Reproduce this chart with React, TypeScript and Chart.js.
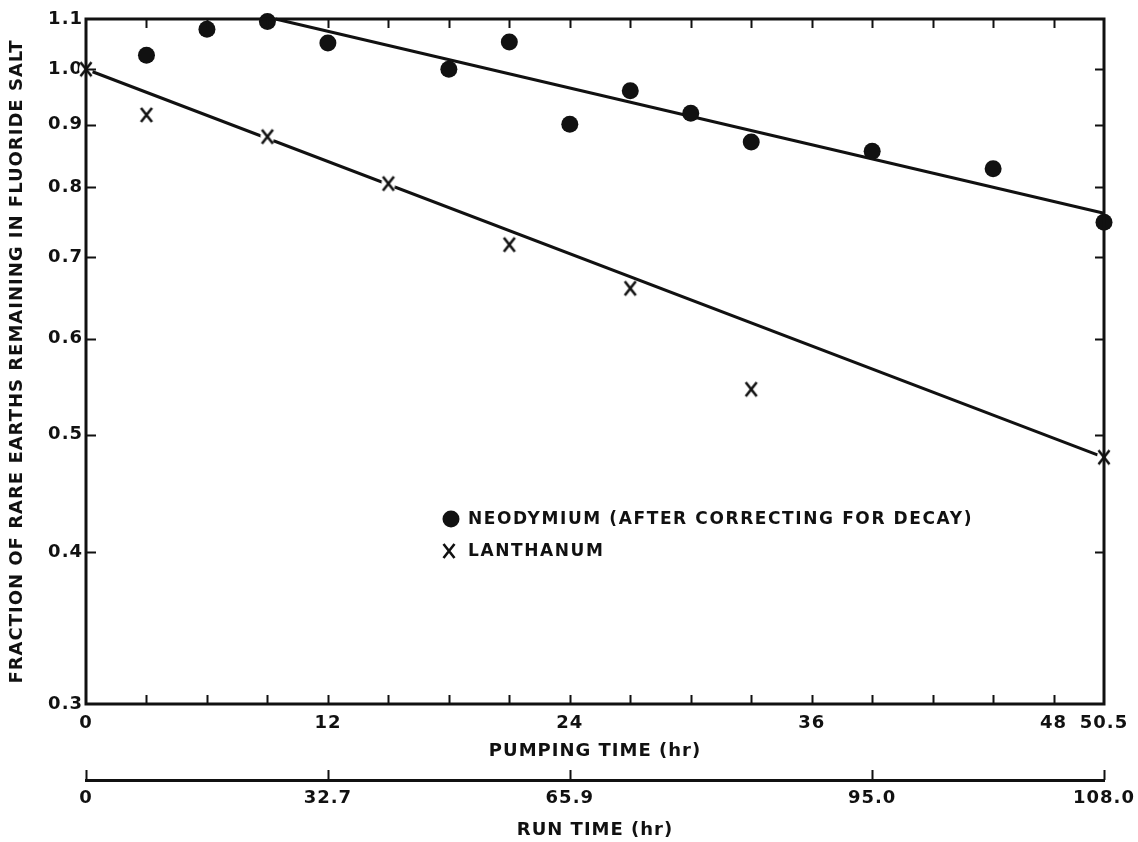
import React, { useEffect, useRef } from 'react';
import { Chart, registerables } from 'chart.js';

Chart.register(...registerables);

// Neodymium fractions (after decay correction) vs pumping time
const ndPumpHours = [3, 6, 9, 12, 18, 21, 24, 27, 30, 33, 39, 45, 50.5];
const ndFraction = [1.027, 1.079, 1.095, 1.051, 1.0, 1.053, 0.901, 0.96, 0.92, 0.871, 0.856, 0.828, 0.748];

// Lanthanum fractions vs pumping time
const laPumpHours = [0, 3, 9, 15, 21, 27, 33, 50.5];
const laFraction = [1.0, 0.917, 0.88, 0.805, 0.717, 0.66, 0.545, 0.479];

// Fitted straight lines (on the log scale)
const ndFitHours = [9.4, 50.5];
const ndFitFraction = [1.1, 0.761];
const laFitHours = [0, 50.5];
const laFitFraction = [1.0, 0.479];

// Axis ticks
const yTickValues = [0.3, 0.4, 0.5, 0.6, 0.7, 0.8, 0.9, 1.0, 1.1];
const pumpTickHours = [0, 3, 6, 9, 12, 15, 18, 21, 24, 27, 30, 33, 36, 39, 42, 45, 48, 50.5];
const pumpLabelHours = [0, 12, 24, 36, 48, 50.5];
const runTickHours = [0, 12, 24, 39, 50.5];
const runTickLabels = ['0', '32.7', '65.9', '95.0', '108.0'];

const INK = '#111111';
const FONT = 'DejaVu Sans';

const toPoints = (xs: number[], ys: number[]) => xs.map((x, i) => ({ x, y: ys[i] }));

// "X" marker with a small white halo so the fitted line breaks around it
function makeCrossMarker(): HTMLCanvasElement {
  const c = document.createElement('canvas');
  c.width = 16;
  c.height = 18;
  const g = c.getContext('2d') as CanvasRenderingContext2D;
  g.fillStyle = '#ffffff';
  g.beginPath();
  g.ellipse(8, 9, 7, 8, 0, 0, Math.PI * 2);
  g.fill();
  g.strokeStyle = INK;
  g.lineWidth = 2.6;
  g.beginPath();
  g.moveTo(2.5, 2);
  g.lineTo(13.5, 16);
  g.moveTo(13.5, 2);
  g.lineTo(2.5, 16);
  g.stroke();
  return c;
}

// Horizontal axes keep the plot edges fixed regardless of label overflow
const noSidePadding = (s: any, height: number) => {
  s.height = height;
  s.paddingLeft = 0;
  s.paddingRight = 0;
};

export default function App() {
  const canvasRef = useRef<HTMLCanvasElement | null>(null);

  useEffect(() => {
    const canvas = canvasRef.current;
    if (!canvas) return;
    const cross = makeCrossMarker();

    const framePlugin = {
      id: 'frameTicksLegend',
      beforeDraw(chart: any) {
        chart.ctx.letterSpacing = '1px';
      },
      afterDatasetsDraw(chart: any) {
        const { ctx, chartArea: a, scales } = chart;
        ctx.save();
        ctx.strokeStyle = INK;
        ctx.lineWidth = 3;
        ctx.strokeRect(a.left, a.top, a.right - a.left, a.bottom - a.top);

        ctx.lineWidth = 2;
        ctx.beginPath();
        const x = scales.x;
        for (const t of x.ticks) {
          if (t.value <= x.min || t.value >= x.max) continue;
          const px = Math.round(x.getPixelForValue(t.value)) + 0.5;
          ctx.moveTo(px, a.bottom);
          ctx.lineTo(px, a.bottom - 9);
          ctx.moveTo(px, a.top);
          ctx.lineTo(px, a.top + 9);
        }
        const y = scales.y;
        for (const t of y.ticks) {
          if (t.value <= y.min || t.value >= y.max) continue;
          const py = Math.round(y.getPixelForValue(t.value)) + 0.5;
          ctx.moveTo(a.left, py);
          ctx.lineTo(a.left + 10, py);
          ctx.moveTo(a.right, py);
          ctx.lineTo(a.right - 9, py);
        }
        const x2 = scales.x2;
        for (const t of x2.ticks) {
          const px = Math.round(x2.getPixelForValue(t.value)) + 0.5;
          ctx.moveTo(px, x2.top);
          ctx.lineTo(px, x2.top - 10);
        }
        ctx.stroke();
        ctx.restore();
      },
      afterDraw(chart: any) {
        const { ctx } = chart;
        const sets = chart.data.datasets;
        ctx.save();
        ctx.letterSpacing = '1.6px';
        ctx.font = `bold 17px "${FONT}"`;
        ctx.fillStyle = INK;
        ctx.textBaseline = 'middle';
        ctx.textAlign = 'left';
        // Neodymium entry
        ctx.beginPath();
        ctx.arc(451, 519, 8.5, 0, Math.PI * 2);
        ctx.fill();
        ctx.fillText(sets[0].label, 468, 520);
        // Lanthanum entry
        ctx.drawImage(cross, 449 - cross.width / 2, 551 - cross.height / 2);
        ctx.fillText(sets[1].label, 468, 552);
        ctx.restore();
        ctx.letterSpacing = '0px';
      },
    };

    const tickFont = { family: FONT, size: 18, weight: 'bold' as const };
    const titleFont = { family: FONT, size: 18, weight: 'bold' as const };

    const chart = new Chart(canvas, {
      type: 'scatter',
      data: {
        datasets: [
          {
            label: 'NEODYMIUM (AFTER CORRECTING FOR DECAY)',
            data: toPoints(ndPumpHours, ndFraction),
            pointStyle: 'circle',
            pointRadius: 8.5,
            pointBorderWidth: 0,
            pointBackgroundColor: INK,
            borderColor: INK,
            clip: false,
            order: 0,
          },
          {
            label: 'LANTHANUM',
            data: toPoints(laPumpHours, laFraction),
            pointStyle: cross,
            pointRadius: 8,
            borderColor: INK,
            clip: false,
            order: 0,
          },
          {
            label: 'Nd fit',
            data: toPoints(ndFitHours, ndFitFraction),
            showLine: true,
            pointRadius: 0,
            borderColor: INK,
            borderWidth: 3,
            clip: false,
            order: 1,
          },
          {
            label: 'La fit',
            data: toPoints(laFitHours, laFitFraction),
            showLine: true,
            pointRadius: 0,
            borderColor: INK,
            borderWidth: 3,
            clip: false,
            order: 1,
          },
        ],
      },
      options: {
        responsive: false,
        animation: false,
        devicePixelRatio: 1,
        events: [],
        layout: { padding: { left: 0, right: 34, top: 19, bottom: 0 } },
        plugins: {
          legend: { display: false },
          tooltip: { enabled: false },
        },
        scales: {
          x: {
            type: 'linear',
            position: 'bottom',
            min: 0,
            max: 50.5,
            afterBuildTicks: (s: any) => {
              s.ticks = pumpTickHours.map((v) => ({ value: v }));
            },
            afterFit: (s: any) => noSidePadding(s, 76),
            grid: { display: false, drawTicks: false },
            border: { display: false },
            ticks: {
              autoSkip: false,
              maxRotation: 0,
              padding: 9,
              color: INK,
              font: tickFont,
              callback: (v: any) => (pumpLabelHours.includes(Number(v)) ? String(v) : ''),
            },
            title: {
              display: true,
              text: 'PUMPING TIME (hr)',
              color: INK,
              font: titleFont,
              padding: { top: 0, bottom: 18 },
            },
          },
          x2: {
            type: 'linear',
            position: 'bottom',
            min: 0,
            max: 50.5,
            afterBuildTicks: (s: any) => {
              s.ticks = runTickHours.map((v) => ({ value: v }));
            },
            afterFit: (s: any) => noSidePadding(s, 62),
            grid: { display: false, drawTicks: false },
            border: { display: true, width: 3, color: INK },
            ticks: {
              autoSkip: false,
              maxRotation: 0,
              padding: 8,
              color: INK,
              font: tickFont,
              callback: (_v: any, i: number) => runTickLabels[i],
            },
            title: {
              display: true,
              text: 'RUN TIME (hr)',
              color: INK,
              font: titleFont,
              padding: { top: 0, bottom: 1 },
            },
          },
          y: {
            type: 'logarithmic',
            position: 'left',
            min: 0.3,
            max: 1.1,
            afterBuildTicks: (s: any) => {
              s.ticks = yTickValues.map((v) => ({ value: v }));
            },
            afterFit: (s: any) => {
              s.width = 86;
              s.paddingTop = 0;
              s.paddingBottom = 0;
            },
            grid: { display: false, drawTicks: false },
            border: { display: false },
            ticks: {
              autoSkip: false,
              padding: 3,
              color: INK,
              font: tickFont,
              callback: (v: any) => Number(v).toFixed(1),
            },
            title: {
              display: true,
              text: 'FRACTION OF RARE EARTHS REMAINING IN FLUORIDE SALT',
              color: INK,
              font: titleFont,
              padding: { top: 7, bottom: 0 },
            },
          },
        },
      } as any,
      plugins: [framePlugin],
    });

    return () => {
      chart.destroy();
    };
  }, []);

  return (
    <div style={{ position: 'absolute', left: 0, top: 0, width: 1138, height: 842, background: '#ffffff' }}>
      <canvas ref={canvasRef} width={1138} height={842} style={{ display: 'block', width: 1138, height: 842 }} />
    </div>
  );
}
